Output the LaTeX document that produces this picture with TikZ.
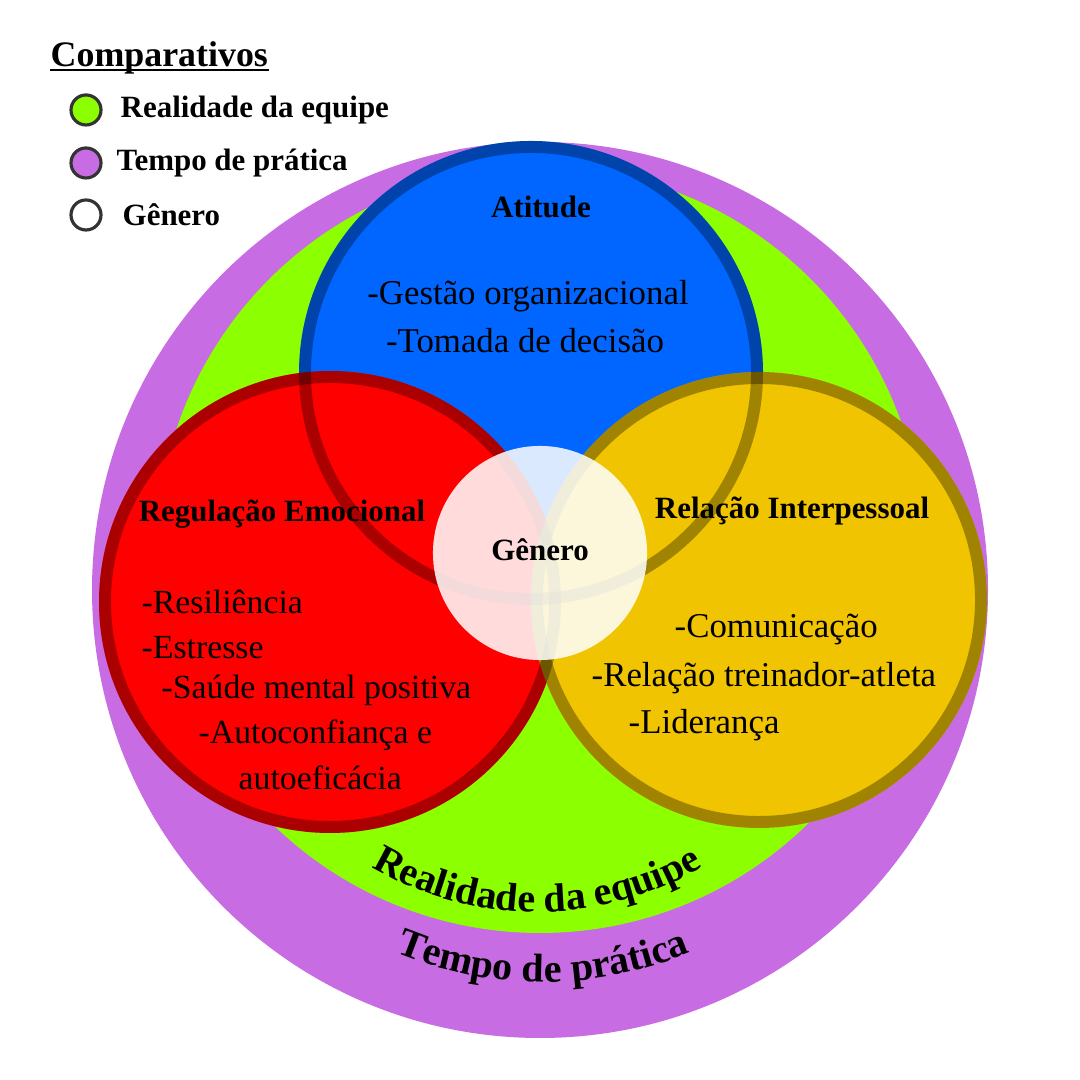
\documentclass[tikz,border=0pt]{standalone}
\usepackage{fontspec}
\setmainfont{Liberation Serif}
\usetikzlibrary{decorations.text}
\definecolor{Orchid}{HTML}{C86CE4}
\definecolor{Lime}{HTML}{8CFF00}
\definecolor{Azure}{HTML}{0066FF}
\definecolor{Scarlet}{HTML}{FF0000}
\definecolor{Amber}{HTML}{F0C400}
\definecolor{Ink}{HTML}{333333}
\newcommand\arcfont{\fontsize{11.4}{13.7}\selectfont\bfseries}
\newcommand\arcfontbig{\fontsize{11.4}{13.7}\selectfont\bfseries}

\begin{document}
\begin{tikzpicture}[x=0.01cm,y=0.01cm,
  every node/.style={inner sep=0pt,align=center},
  head/.style={font=\fontsize{8.8}{10.5}\selectfont\bfseries},
  item/.style={font=\fontsize{9.9}{12}\selectfont,anchor=west},
  rim/.style={draw=black,draw opacity=0.33,line width=3.4pt},
  key/.style={circle,draw=Ink,line width=0.9pt,minimum size=0.3cm}]
  \useasboundingbox (0,0) rectangle (1080,1080);
  % outer rings
  \fill[Orchid] (540,490) circle[radius=448];
  \fill[Lime] (540,530) circle[radius=383];
  % the three competences
  \foreach \cx/\cy/\r/\c in {531/707/233/Azure,330/478/232/Scarlet,759/480/229/Amber}{
    \fill[\c] (\cx,\cy) circle[radius=\r-1];
  }
  \foreach \cx/\cy/\r in {531/707/233,330/478/232,759/480/229}{
    \draw[rim] (\cx,\cy) circle[radius=\r-7];
  }
  \node[circle,fill=white,fill opacity=0.86,text opacity=1,minimum size=2.14cm,head] (genero) at (540,527) {};
  \node[head] (generotxt) at (540,530) {Gênero};
  % curved labels
  \path[decorate,decoration={text along path,text align=center,text={|\arcfont|Realidade da equipe}}]
    (537,494) ++(200:326) arc[start angle=200,end angle=340,radius=326];
  \path[decorate,decoration={text along path,text align=center,text={|\arcfontbig|Tempo de prática}}]
    (543,481) ++(200:383) arc[start angle=200,end angle=340,radius=383];
  % headings
  \node[head] (atitude) at (541,873) {Atitude};
  \node[head] (regulacao) at (282,566) {Regulação Emocional};
  \node[head] (relacao) at (792,569) {Relação Interpessoal};
  % items
  \node[item,anchor=center] (gestao) at (528,784) {-Gestão organizacional};
  \node[item,anchor=center] (tomada) at (525,739) {-Tomada de decisão};
  \foreach \x/\y/\t [count=\k] in {141/478/-Resiliência,141/432/-Estresse,161/390/-Saúde mental positiva,198/345/-Autoconfiança e,238/302/autoeficácia}{
    \node[item,font=\fontsize{9.6}{11.5}\selectfont] (reg\k) at (\x,\y) {\t};
  }
  \foreach \x/\y/\t [count=\k] in {674/451/-Comunicação,591/402/-Relação treinador-atleta,628/355/-Liderança}{
    \node[item] (rel\k) at (\x,\y) {\t};
  }
  % legend
  \node[anchor=base west,font=\fontsize{10.2}{12}\selectfont\bfseries] (titulo) at (50,1013) {Comparativos};
  \draw[line width=0.6pt] ([yshift=-0.03cm]titulo.base west) -- ([yshift=-0.03cm]titulo.base east);
  \foreach \y/\c/\x/\t [count=\k] in {970/Lime/120/Realidade da equipe,917/Orchid/116/Tempo de prática,865/white/122/Gênero}{
    \node[key,fill=\c] (key\k) at (86,\y) {};
    \node[head,anchor=west] (lbl\k) at (\x,\y) {\t};
  }
\end{tikzpicture}
\end{document}
